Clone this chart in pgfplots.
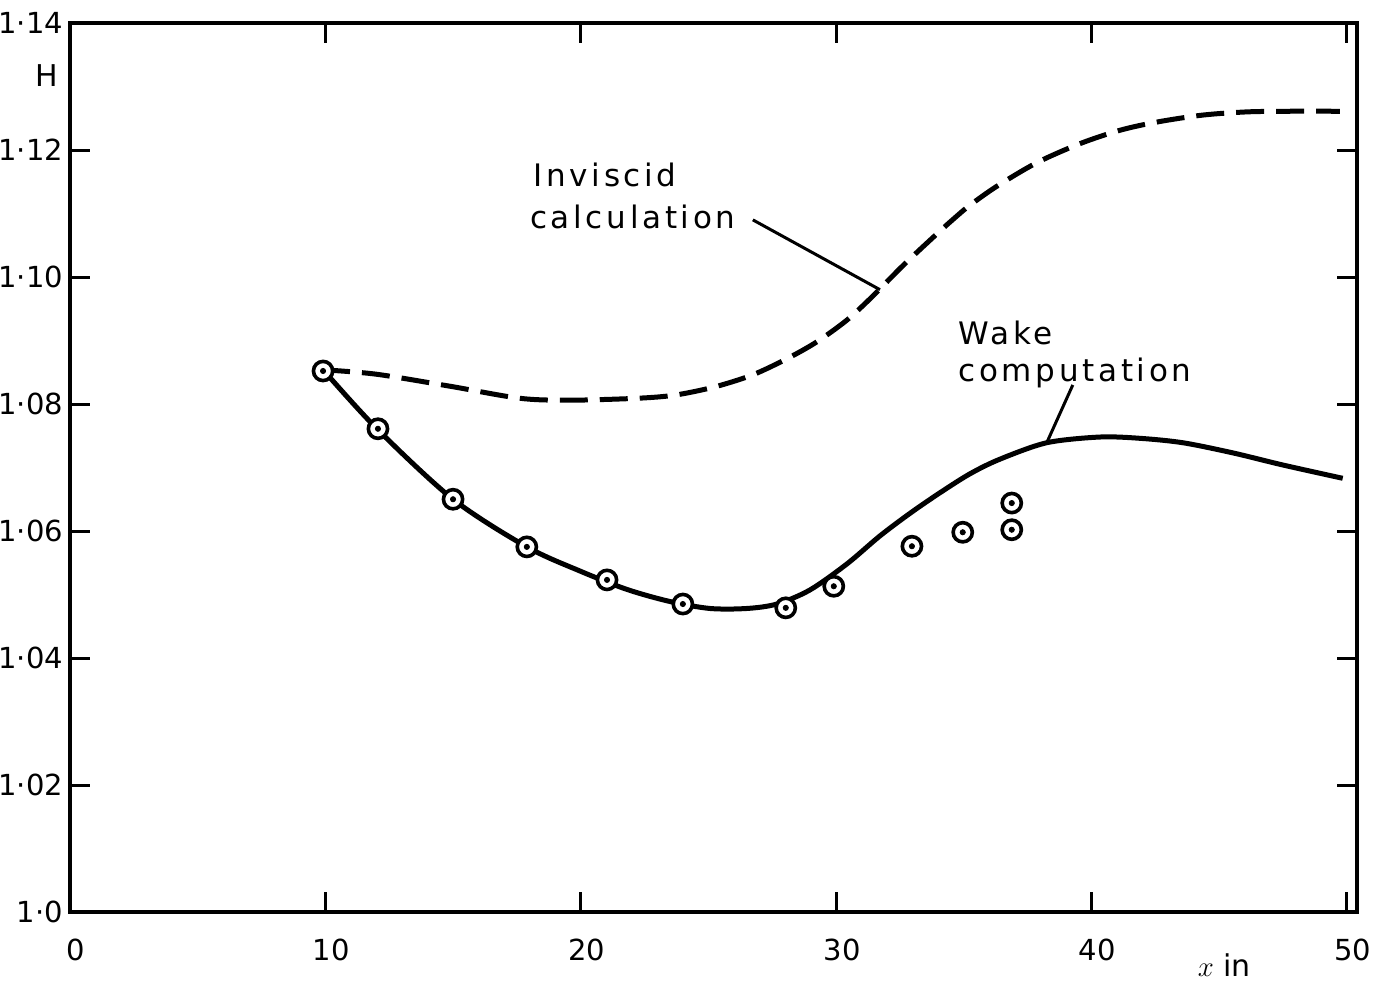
\documentclass[border=0pt]{standalone}
\usepackage{pgfplots}
\pgfplotsset{compat=1.18}
\usepackage{fontspec}
\setmainfont{DejaVu Sans}
\newfontfamily\lettering[LetterSpace=12]{DejaVu Sans}

\begin{document}
\begin{tikzpicture}
  \useasboundingbox (-35pt,-35pt) rectangle (662pt,456pt);
  \begin{axis}[
      at={(0,0)}, anchor=south west,
      scale only axis,
      width=643.5pt, height=444.5pt,
      xmin=0, xmax=50.4,
      ymin=1, ymax=1.14,
      xtick={0,10,20,30,40,50},
      ytick={1,1.02,1.04,1.06,1.08,1.10,1.12,1.14},
      yticklabels={1·0,1·02,1·04,1·06,1·08,1·10,1·12,1·14},
      tick pos=both,
      tick align=inside,
      major tick length=10pt,
      axis line style={line width=1.6pt},
      tick style={line width=1.5pt, black},
      /pgf/number format/assume math mode=true,
      ticklabel style={font=\fontsize{14.5}{16}\selectfont},
      xticklabel style={anchor=center, yshift=-19pt, xshift=3pt},
      clip=false,
    ]
    % inviscid calculation (dashed)
    \addplot[black, line width=2.5pt, smooth, dash pattern=on 14pt off 6pt] coordinates {
      (9.87,1.0854) (11.98,1.0847) (14.88,1.0828) (17.62,1.0809) (19.58,1.0806)
      (22.20,1.0809) (23.69,1.0814) (25.25,1.0827) (26.74,1.0846) (28.11,1.0872)
      (29.25,1.0898) (30.42,1.0932) (31.44,1.0970) (32.62,1.1018) (33.95,1.1068)
      (34.73,1.1096) (35.24,1.1113) (36.30,1.1143) (37.86,1.1180) (39.55,1.1210)
      (41.11,1.1231) (42.56,1.1244) (44.36,1.1255) (46.08,1.1260) (47.65,1.1261)
      (49.73,1.1261)
    };
    % wake computation (solid)
    \addplot[black, line width=2.5pt, smooth] coordinates {
      (9.91,1.0854) (12.02,1.0761) (15.00,1.0650) (17.89,1.0575) (19.97,1.0537)
      (21.81,1.0508) (23.49,1.0489) (25.06,1.0478) (26.51,1.0478) (27.68,1.0485)
      (28.97,1.0507) (30.42,1.0548) (31.71,1.0592) (32.90,1.0628) (34.06,1.0660)
      (35.24,1.0690) (36.41,1.0713) (38.25,1.0739) (40.33,1.0748) (41.89,1.0746)
      (43.58,1.0739) (45.54,1.0723) (47.49,1.0704) (49.84,1.0683)
    };
    % measurements
    \addplot[only marks, mark=*, mark size=4.8pt,
      mark options={fill=white, draw=black, line width=1.8pt}] coordinates {
      (9.91,1.0852) (12.06,1.0761) (15.00,1.0650) (17.89,1.0575) (21.03,1.0523)
      (24.00,1.0485) (28.03,1.0479) (29.91,1.0513) (32.97,1.0576) (34.96,1.0598)
      (36.88,1.0602) (36.88,1.0644)
    };
    \addplot[only marks, mark=*, mark size=1.3pt, black] coordinates {
      (9.91,1.0852) (12.06,1.0761) (15.00,1.0650) (17.89,1.0575) (21.03,1.0523)
      (24.00,1.0485) (28.03,1.0479) (29.91,1.0513) (32.97,1.0576) (34.96,1.0598)
      (36.88,1.0602) (36.88,1.0644)
    };
    % annotations
    \node[anchor=base west, inner sep=0pt, font=\lettering\fontsize{15.5}{18}\selectfont] at (axis cs:18.13,1.1143) {Inviscid};
    \node[anchor=base west, inner sep=0pt, font=\lettering\fontsize{15.5}{18}\selectfont] at (axis cs:18.0,1.1076) {calculation};
    \node[anchor=base west, inner sep=0pt, font=\lettering\fontsize{15.5}{18}\selectfont] at (axis cs:34.77,1.0893) {Wake};
    \node[anchor=base west, inner sep=0pt, font=\lettering\fontsize{15.5}{18}\selectfont] at (axis cs:34.77,1.0835) {computation};
    \draw[line width=1.5pt] (axis cs:26.74,1.1090) -- (axis cs:31.72,1.0980);
    \draw[line width=1.5pt] (axis cs:39.27,1.0830) -- (axis cs:38.25,1.0739);
    \node[font=\fontsize{15}{18}\selectfont] at (axis cs:0,1.1318) [xshift=-11.5pt] {H};
    \node[font=\fontsize{15}{18}\selectfont] at (axis cs:45.2,1) [yshift=-26.5pt] {$x$ in};
  \end{axis}
\end{tikzpicture}
\end{document}
